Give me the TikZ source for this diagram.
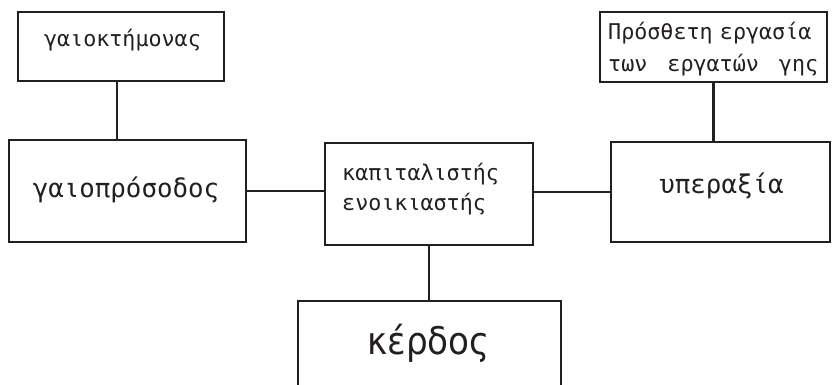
\documentclass[tikz,border=0pt]{standalone}
\usepackage{fontspec}
\setmonofont{DejaVu Sans Mono}
\newfontfamily\kerdosfont[FakeStretch=0.9]{DejaVu Sans}
\definecolor{ink}{HTML}{231F20}
\tikzset{
  box/.style={draw=ink, line width=2.5pt, rectangle, inner sep=0pt},
  lbl/.style={text=ink, inner sep=0pt, font=\ttfamily\fontsize{21.7}{30}\selectfont},
  big/.style={text=ink, inner sep=0pt, font=\ttfamily\fontsize{25.8}{30}\selectfont},
  link/.style={draw=ink, line width=2.5pt}
}

\begin{document}
\begin{tikzpicture}[x=1pt, y=-1pt]
    \useasboundingbox (0,0) rectangle (832,385);
    \clip (0,0) rectangle (832,385);
    % boxes
    \node[box, minimum width=206pt, minimum height=69pt] (lt) at (121,46.5) {};
    \node[box, minimum width=237pt, minimum height=102pt] (lm) at (127.5,191) {};
    \node[box, minimum width=208pt, minimum height=102pt] (cap) at (429,194) {};
    \node[box, minimum width=227pt, minimum height=70pt] (rt) at (713.5,47) {};
    \node[box, minimum width=219pt, minimum height=100pt] (rm) at (720.5,192) {};
    \node[box, minimum width=263pt, minimum height=119pt] (kd) at (429.5,360.5) {};
    % texts
    \node[lbl, anchor=base] (ltlbl) at (122.5,47) {γαιοκτήμονας};
    \node[big, anchor=base] (lmlbl) at (126,197) {γαιοπρόσοδος};
    \node[lbl, anchor=base west, align=left] (caplbl) at (342,210) {καπιταλιστής\\ενοικιαστής};
    \node[lbl, anchor=base west, text width=210pt, align=left,
          font=\ttfamily\fontsize{21.7}{32}\selectfont] (rtlbl) at (608,40)
          {Πρόσθετη εργασ^^^^03afα\\των\hfill εργατών\hfill γης};
    \node[big, anchor=base] (rmlbl) at (721.5,193) {υπεραξ^^^^03afα};
    \node[lbl, anchor=base, font=\kerdosfont\fontsize{38}{40}\selectfont] (kdlbl) at (428.5,354) {κέρδος};
    % connectors
    \path[link]
    ([xshift=-4pt]lt.south) edge ([xshift=-4pt]lt.south |- lm.north)
    (lm.east) edge (lm.east -| cap.west)
    (cap.east |- rm.west) edge (rm.west)
    (rt.south) edge (rt.south |- rm.north)
    (cap.south) edge (cap.south |- kd.north);
\end{tikzpicture}
\end{document}
